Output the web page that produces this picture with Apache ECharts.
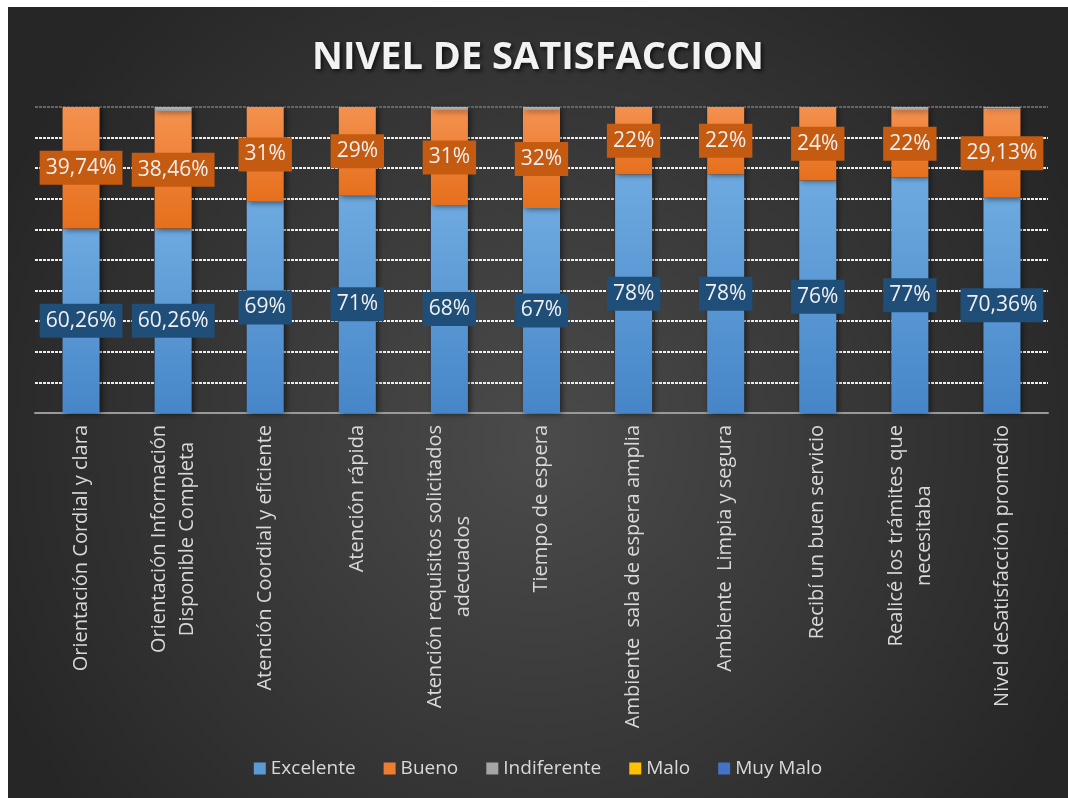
<!DOCTYPE html>
<html lang="es">
<head>
<meta charset="UTF-8">
<title>Nivel de satisfaccion</title>
<script src="https://cdn.jsdelivr.net/npm/echarts@6/dist/echarts.min.js"></script>
<style>
  html, body { margin: 0; padding: 0; background: #ffffff; }
  #chart { position: absolute; left: 8px; top: 7px; width: 1060px; height: 791px; }
</style>
</head>
<body>
<div id="chart"></div>
<script>
// categorias del eje x
var categorias = [
  'Orientación Cordial y clara',
  'Orientación Información\nDisponible Completa',
  'Atención Coordial y eficiente',
  'Atención rápida',
  'Atención requisitos solicitados\nadecuados',
  'Tiempo de espera',
  'Ambiente  sala de espera amplia',
  'Ambiente  Limpia y segura',
  'Recibí un buen servicio',
  'Realicé los trámites que\nnecesitaba',
  'Nivel deSatisfacción promedio'
];
// porcentajes por nivel
var excelente   = [60.26, 60.26, 69, 71, 68, 67, 78, 78, 76, 77, 70.36];
var bueno       = [39.74, 38.46, 31, 29, 31, 32, 22, 22, 24, 22, 29.13];
var indiferente = [0, 1.28, 0, 0, 1, 1, 0, 0, 0, 1, 0.51];
var malo        = [0, 0, 0, 0, 0, 0, 0, 0, 0, 0, 0];
var muyMalo     = [0, 0, 0, 0, 0, 0, 0, 0, 0, 0, 0];

var FONT = '"Open Sans", sans-serif';

function pct(v) {
  if (Math.round(v) === v) return v + '%';
  return v.toFixed(2).replace('.', ',') + '%';
}

function grad(top, bottom) {
  return new echarts.graphic.LinearGradient(0, 0, 0, 1, [
    { offset: 0, color: top },
    { offset: 1, color: bottom }
  ]);
}

var chart = echarts.init(document.getElementById('chart'));

var barShadow = {
  shadowBlur: 6,
  shadowColor: 'rgba(0,0,0,0.55)',
  shadowOffsetX: 2,
  shadowOffsetY: 1
};

function etiqueta(bg) {
  return {
    show: true,
    position: 'inside',
    formatter: function (p) { return pct(p.value); },
    color: '#f0f0f0',
    fontFamily: FONT,
    fontSize: 21,
    backgroundColor: bg,
    padding: [7, 6, 6, 6]
  };
}

var option = {
  backgroundColor: {
    type: 'radial', x: 0.5, y: 0.55, r: 0.75,
    colorStops: [
      { offset: 0, color: '#4b4b4b' },
      { offset: 1, color: '#262626' }
    ]
  },
  title: {
    text: 'NIVEL DE SATISFACCION',
    left: 'center',
    top: 27,
    textStyle: {
      color: '#f2f2f2',
      fontFamily: FONT,
      fontWeight: 'bold',
      fontSize: 38,
      textShadowColor: 'rgba(0,0,0,0.7)',
      textShadowBlur: 4,
      textShadowOffsetX: 2,
      textShadowOffsetY: 2
    }
  },
  legend: {
    top: 747,
    left: 'center',
    itemWidth: 12,
    itemHeight: 12,
    itemGap: 28,
    icon: 'rect',
    textStyle: { color: '#d9d9d9', fontFamily: FONT, fontSize: 19 },
    data: ['Excelente', 'Bueno', 'Indiferente', 'Malo', 'Muy Malo']
  },
  grid: { left: 27, right: 20, top: 100, bottom: 385 },
  xAxis: {
    type: 'category',
    data: categorias,
    axisTick: { show: false },
    axisLine: { lineStyle: { color: '#9a9a9a', width: 2, type: [2, 1] } },
    axisLabel: {
      rotate: 90,
      margin: 12,
      interval: 0,
      formatter: function (v) {
        return v.split('\n').map(function (s) { return '{c|' + s + '}'; }).join('\n');
      },
      rich: {
        c: { align: 'center', color: '#d9d9d9', fontFamily: FONT, fontSize: 20, lineHeight: 28 }
      }
    }
  },
  yAxis: {
    type: 'value',
    min: 0,
    max: 100,
    interval: 10,
    axisLabel: { show: false },
    axisLine: { show: false },
    axisTick: { show: false },
    splitLine: {
      lineStyle: {
        color: ['#999', '#eee', '#eee', '#eee', '#eee', '#eee', '#eee', '#eee', '#eee', '#eee', '#666'],
        width: 2,
        type: [3, 1]
      }
    }
  },
  series: [
    {
      name: 'Excelente', type: 'bar', stack: 'total', barWidth: 37,
      data: excelente,
      itemStyle: Object.assign({ color: grad('#6eaae0', '#4686c8') }, barShadow),
      label: etiqueta('#1f4e79')
    },
    {
      name: 'Bueno', type: 'bar', stack: 'total', barWidth: 37,
      data: bueno,
      itemStyle: Object.assign({ color: grad('#f4914f', '#e66f1c') }, barShadow),
      label: etiqueta('#c55a11')
    },
    {
      name: 'Indiferente', type: 'bar', stack: 'total', barWidth: 37,
      data: indiferente,
      itemStyle: Object.assign({ color: grad('#b5b5b5', '#9a9a9a') }, barShadow)
    },
    {
      name: 'Malo', type: 'bar', stack: 'total', barWidth: 37,
      data: malo,
      itemStyle: { color: '#ffc000' }
    },
    {
      name: 'Muy Malo', type: 'bar', stack: 'total', barWidth: 37,
      data: muyMalo,
      itemStyle: { color: '#4472c4' }
    }
  ]
};

// leyenda con colores planos
option.legend.data = option.legend.data.map(function (n, i) {
  var c = ['#5b9bd5', '#ed7d31', '#a5a5a5', '#ffc000', '#4472c4'][i];
  return { name: n, itemStyle: { color: c, shadowBlur: 0, shadowOffsetX: 0, shadowOffsetY: 0 } };
});

chart.setOption(option);
window.addEventListener('resize', function () { chart.resize(); });
</script>
</body>
</html>
